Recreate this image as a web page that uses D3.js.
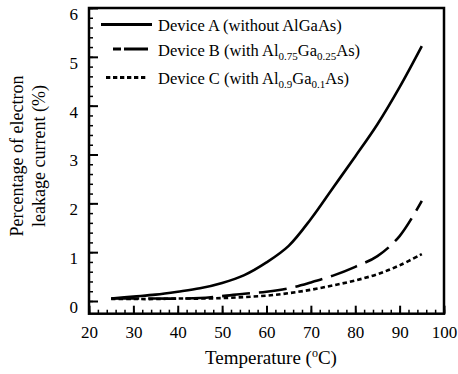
<!DOCTYPE html>
<html>
<head>
<meta charset="utf-8">
<script src="https://cdn.jsdelivr.net/npm/d3@7"></script>
<style>
  body { margin: 0; background: #fff; }
  svg text { font-family: "Liberation Serif", "DejaVu Serif", serif; fill: #000; }
</style>
</head>
<body>
<svg id="chart" width="458" height="374"></svg>
<script>
// temperature (oC)
var temps = [25, 30, 35, 40, 45, 50, 55, 60, 65, 70, 75, 80, 85, 90, 95];
// leakage current (%)
var deviceA = [0.05, 0.09, 0.13, 0.19, 0.26, 0.37, 0.53, 0.79, 1.13, 1.68, 2.32, 2.96, 3.62, 4.38, 5.22];
var deviceB = [0.05, 0.05, 0.05, 0.05, 0.06, 0.10, 0.15, 0.19, 0.26, 0.38, 0.52, 0.70, 0.92, 1.33, 2.05];
var deviceC = [0.04, 0.04, 0.04, 0.05, 0.05, 0.06, 0.08, 0.11, 0.16, 0.23, 0.32, 0.42, 0.55, 0.73, 0.96];
var xTicks = [20, 30, 40, 50, 60, 70, 80, 90, 100];
var yTicks = [0, 1, 2, 3, 4, 5, 6];

var svg = d3.select("#chart");
var FONT = "'Liberation Serif', 'DejaVu Serif', serif";

var x = d3.scaleLinear().domain([20, 100]).range([89, 444]);
var y = d3.scaleLinear().domain([-0.26, 6]).range([313.7, 8]);

// frame
svg.append("rect")
   .attr("x", x(20)).attr("y", y(6))
   .attr("width", x(100) - x(20)).attr("height", y(-0.26) - y(6))
   .attr("fill", "none").attr("stroke", "#000").attr("stroke-width", 2.5);

//minor ticks first, then the labelled ones
var xMinor = d3.range(20, 100.1, 2);
var yMinor = d3.range(0, 6.01, 0.2);

svg.append("g").attr("transform", "translate(0," + y(-0.26) + ")")
   .call(d3.axisBottom(x).tickValues(xMinor).tickSize(-4).tickFormat(""))
   .call(function(g){ g.select(".domain").remove(); g.selectAll("line").attr("stroke-width", 1.5); });

svg.append("g").attr("transform", "translate(" + x(20) + ",0)")
   .call(d3.axisLeft(y).tickValues(yMinor).tickSize(-4).tickFormat(""))
   .call(function(g){ g.select(".domain").remove(); g.selectAll("line").attr("stroke-width", 1.5); });

var xAxis = svg.append("g").attr("transform", "translate(0," + y(-0.26) + ")")
   .call(d3.axisBottom(x).tickValues(xTicks).tickSize(-8).tickPadding(12).tickFormat(d3.format("d")));
xAxis.attr("font-family", FONT).attr("font-size", 17);
xAxis.select(".domain").remove();
xAxis.selectAll("line").attr("stroke-width", 2);

var yAxis = svg.append("g").attr("transform", "translate(" + x(20) + ",0)")
   .call(d3.axisLeft(y).tickValues(yTicks).tickSize(-9).tickPadding(11).tickFormat(d3.format("d")));
yAxis.attr("font-family", FONT).attr("font-size", 17);
yAxis.select(".domain").remove();
yAxis.selectAll("line").attr("stroke-width", 2);
yAxis.selectAll("text").attr("y", 6);

// curves
var series = [
  {name: "A", values: deviceA, dash: null},
  {name: "B", values: deviceB, dash: "28,9"},
  {name: "C", values: deviceC, dash: "4.5,3"}
];

var line = d3.line()
   .x(function(d){ return x(d[0]); })
   .y(function(d){ return y(d[1]); })
   .curve(d3.curveCatmullRom.alpha(0.5));

series.forEach(function(s){
   var pts = temps.map(function(t, i){ return [t, s.values[i]]; });
   svg.append("path")
      .attr("d", line(pts))
      .attr("fill", "none")
      .attr("stroke", "#000")
      .attr("stroke-width", 2.6)
      .attr("stroke-dasharray", s.dash);
});

// legend
var legend = svg.append("g");
var legRows = [
  {y: 24.5, x1: 101, x2: 152, dash: null, parts: [["Device A (without AlGaAs)", 0]]},
  {y: 49, x1: 113, x2: 148, dash: "8,3,24,3", parts: [["Device B (with Al", 0], ["0.75", 1], ["Ga", 0], ["0.25", 1], ["As)", 0]]},
  {y: 77.5, x1: 106, x2: 147, dash: "4.3,2.7", parts: [["Device C (with Al", 0], ["0.9", 1], ["Ga", 0], ["0.1", 1], ["As)", 0]]}
];
legRows.forEach(function(r){
   legend.append("line")
      .attr("x1", r.x1).attr("x2", r.x2).attr("y1", r.y).attr("y2", r.y)
      .attr("stroke", "#000").attr("stroke-width", 3)
      .attr("stroke-dasharray", r.dash);
   var t = legend.append("text")
      .attr("x", 158).attr("y", r.y + 6.5)
      .style("font-size", "16.5px");
   var prevSub = 0;
   r.parts.forEach(function(p){
      var shift = (p[1] - prevSub) * 4;
      t.append("tspan")
       .attr("dy", shift)
       .style("font-size", p[1] ? "11px" : "16.5px")
       .text(p[0]);
      prevSub = p[1];
   });
});

// axis titles
var xt = svg.append("text")
   .attr("x", 271).attr("y", 364)
   .attr("text-anchor", "middle")
   .style("font-size", "19px");
xt.append("tspan").text("Temperature (");
xt.append("tspan").attr("dy", -7).style("font-size", "12px").text("o");
xt.append("tspan").attr("dy", 7).text("C)");

var yt = svg.append("g").attr("transform", "translate(0,156) rotate(-90)");
yt.append("text").attr("x", 0).attr("y", 23).attr("text-anchor", "middle")
  .style("font-size", "18px").text("Percentage of electron");
yt.append("text").attr("x", 0).attr("y", 45).attr("text-anchor", "middle")
  .style("font-size", "18px").text("leakage current (%)");
</script>
</body>
</html>
